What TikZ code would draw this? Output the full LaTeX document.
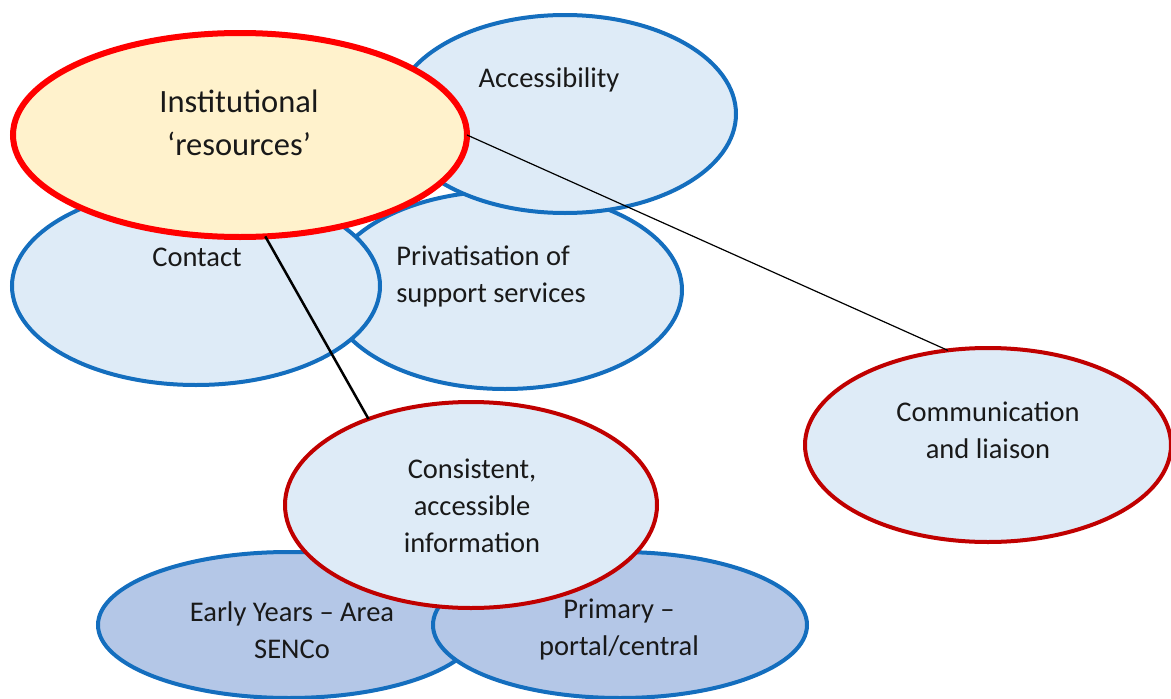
\documentclass[tikz,border=0pt]{standalone}
\usepackage{fontspec}
\setmainfont{Carlito}
\usepackage{xcolor}
\usepackage{tikz}
\usetikzlibrary{shapes.geometric}

\definecolor{paleblue}{HTML}{DEEBF7}
\definecolor{midblue}{HTML}{B4C7E7}
\definecolor{rimblue}{RGB}{20,110,190}
\definecolor{darkred}{HTML}{C00000}
\definecolor{paleyellow}{HTML}{FFF2CC}

\tikzset{
	bubble/.style={shape=ellipse,fill=paleblue,draw=rimblue,line width=4pt,inner sep=0pt,outer sep=0pt},
	keybubble/.style={bubble,draw=darkred},
	basebubble/.style={bubble,fill=midblue},
	txt/.style={font=\fontsize{28.5}{37}\selectfont,align=center,inner sep=0pt,text=black!90},
}

\begin{document}
\begin{tikzpicture}[x=1pt,y=-1pt]
	\useasboundingbox (0,0) rectangle (1171,699);
	% upper group
	\node[bubble,minimum width=354,minimum height=198] (priv) at (505,290) {};
	\node[bubble,minimum width=368,minimum height=198] (cont) at (196,286) {};
	\node[bubble,minimum width=342,minimum height=198] (acc) at (565,114) {};
	\node[bubble,draw=red,fill=paleyellow,line width=6pt,minimum width=454,minimum height=204] (inst) at (240,135) {};
	% lower group
	\node[basebubble,minimum width=382,minimum height=146] (early) at (289,625) {};
	\node[basebubble,minimum width=374,minimum height=146] (prim) at (620,625) {};
	\node[keybubble,minimum width=372,minimum height=206] (cons) at (471,505) {};
	\node[keybubble,minimum width=366,minimum height=194] (comm) at (988,445) {};
	% texts
	\node[txt,font=\fontsize{32.5}{43}\selectfont] (insttxt) at (239,123) {Institutional\\‘resources’};
	\node[txt] (acctxt) at (549,80) {Accessibility};
	\node[txt] (conttxt) at (197,257) {Contact};
	\node[txt,align=left] (privtxt) at (491,276) {Privatisation of\\support services};
	\node[txt] (commtxt) at (988,430) {Communication\\and liaison};
	\node[txt] (constxt) at (472,506) {Consistent,\\accessible\\information};
	\node[txt] (earlytxt) at (292,630) {Early Years – Area\\SENCo};
	\node[txt] (primtxt) at (619,629) {Primary –\\portal/central};
	% links
	\path[-,line width=1.2pt] (inst.east) edge (comm.113);
	\path[-,line width=2.5pt] (inst.-76) edge (cons.140);
\end{tikzpicture}
\end{document}
